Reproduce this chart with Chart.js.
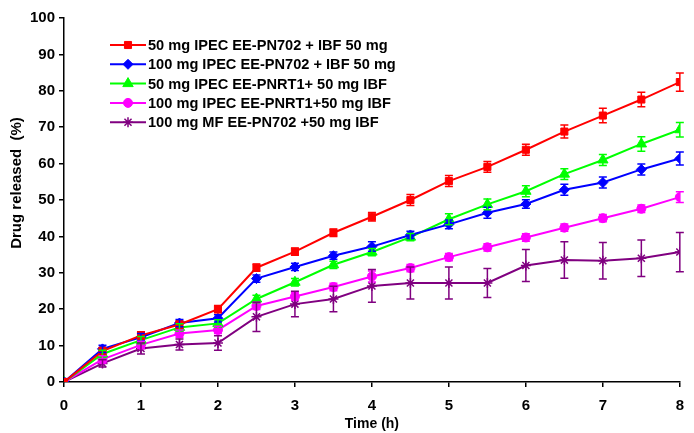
<!DOCTYPE html>
<html>
<head>
<meta charset="utf-8">
<script src="https://cdn.jsdelivr.net/npm/chart.js@4"></script>
<style>
  html, body { margin: 0; padding: 0; background: #fff; }
  #wrap { width: 694px; height: 433px; }
</style>
</head>
<body>
<div id="wrap"><canvas id="chart" width="694" height="433"></canvas></div>
<script>
// time points (h)
const times = [0, 0.5, 1, 1.5, 2, 2.5, 3, 3.5, 4, 4.5, 5, 5.5, 6, 6.5, 7, 7.5, 8];

const seriesNames = [
  '50 mg IPEC EE-PN702 + IBF 50 mg',
  '100 mg IPEC EE-PN702 + IBF 50 mg',
  '50 mg IPEC EE-PNRT1+ 50 mg IBF',
  '100 mg IPEC EE-PNRT1+50 mg IBF',
  '100 mg MF EE-PN702 +50 mg IBF'
];

// % drug released
const red     = [0, 8.5, 12.8, 15.8, 20, 31.4, 35.8, 41, 45.4, 50, 55.2, 59.1, 63.8, 68.8, 73.2, 77.6, 82.4];
const blue    = [0, 9.1, 12.3, 16.2, 17.5, 28.4, 31.6, 34.7, 37.2, 40.4, 43.3, 46.5, 48.9, 52.8, 54.8, 58.4, 61.4];
const green   = [0, 7.7, 11.5, 15, 16.1, 22.8, 27.4, 32.2, 35.7, 39.8, 44.7, 48.8, 52.4, 57.1, 61, 65.4, 69.3];
const magenta = [0, 6.2, 10.2, 13.3, 14.3, 20.9, 23.5, 26.1, 29, 31.3, 34.3, 37, 39.7, 42.4, 45, 47.6, 50.8];
const purple  = [0, 5.1, 9.2, 10.3, 10.7, 17.9, 21.4, 22.8, 26.4, 27.2, 27.2, 27.2, 32, 33.5, 33.3, 34, 35.7];

// standard deviations
const redErr     = [0, 1, 1, 1, 1, 1, 1, 1, 1.2, 1.5, 1.5, 1.5, 1.5, 1.8, 2, 2, 2.5];
const blueErr    = [0, 1, 1, 1, 1, 1, 1, 1, 1.3, 1, 1.2, 1.5, 1.2, 1.5, 1.5, 1.5, 1.8];
const greenErr   = [0, 1, 1, 1, 1, 1, 1, 1, 1, 1, 1.5, 1.5, 1.5, 1.5, 1.5, 2, 2];
const magentaErr = [0, 1, 1, 1, 1, 1, 1, 1, 1.5, 1, 1, 1, 1, 1, 1, 1, 1.5];
const purpleErr  = [0, 1, 1.5, 1.5, 2, 4, 3.5, 3.5, 4.5, 4.4, 4.4, 4, 4.4, 5, 5, 5, 5.4];

const yTicks = [0, 10, 20, 30, 40, 50, 60, 70, 80, 90, 100];
const xTicks = [0, 1, 2, 3, 4, 5, 6, 7, 8];

const colors = ['#ff0000', '#0000ff', '#00ff00', '#ff00ff', '#800080'];
const styles = ['rect', 'rectRot', 'triangle', 'circle', 'star'];
const values = [red, blue, green, magenta, purple];
const errors = [redErr, blueErr, greenErr, magentaErr, purpleErr];

const fontFam = '"Liberation Sans", Arial, sans-serif';
const radii = { rect: 5, rectRot: 5, triangle: 6, circle: 4.5, star: 5 };

const datasets = values.map((vals, i) => ({
  label: seriesNames[i],
  data: times.map((t, j) => ({ x: t, y: vals[j] })),
  errors: errors[i],
  borderColor: colors[i],
  backgroundColor: colors[i],
  pointBackgroundColor: colors[i],
  pointBorderColor: colors[i],
  pointStyle: styles[i],
  pointRadius: radii[styles[i]],
  pointBorderWidth: styles[i] === 'star' ? 1.5 : 1,
  borderWidth: 2,
  tension: 0
}));

// error bars, legend and y title drawn on the canvas
const extras = {
  id: 'extras',
  afterDatasetsDraw(chart) {
    const ctx = chart.ctx;
    const xs = chart.scales.x, ys = chart.scales.y;
    ctx.save();
    chart.data.datasets.forEach((ds) => {
      ctx.strokeStyle = ds.borderColor;
      ctx.lineWidth = 1.5;
      ds.data.forEach((p, j) => {
        const e = ds.errors[j];
        if (!e) return;
        const px = xs.getPixelForValue(p.x);
        const top = ys.getPixelForValue(p.y + e);
        const bot = ys.getPixelForValue(p.y - e);
        ctx.beginPath();
        ctx.moveTo(px, top); ctx.lineTo(px, bot);
        ctx.moveTo(px - 4, top); ctx.lineTo(px + 4, top);
        ctx.moveTo(px - 4, bot); ctx.lineTo(px + 4, bot);
        ctx.stroke();
      });
    });

    // legend
    const lx = 110, ly = 45, step = 19.3;
    ctx.font = 'bold 14.6px ' + fontFam;
    ctx.textBaseline = 'middle';
    chart.data.datasets.forEach((ds, i) => {
      const y = ly + i * step;
      ctx.strokeStyle = ds.borderColor;
      ctx.fillStyle = ds.borderColor;
      ctx.lineWidth = 2;
      ctx.beginPath();
      ctx.moveTo(lx, y); ctx.lineTo(lx + 36, y);
      ctx.stroke();
      ctx.lineWidth = ds.pointBorderWidth;
      Chart.helpers.drawPoint(ctx, {
        pointStyle: ds.pointStyle,
        radius: ds.pointRadius,
        borderWidth: ds.pointBorderWidth,
        rotation: 0
      }, lx + 18, y);
      ctx.fillStyle = '#000';
      ctx.fillText(ds.label, lx + 38, y + 1);
    });

    // y axis title
    ctx.translate(17, 183);
    ctx.rotate(-Math.PI / 2);
    ctx.textAlign = 'center';
    ctx.font = 'bold 15px ' + fontFam;
    ctx.fillStyle = '#000';
    ctx.fillText('Drug released  (%)', 0, 0);
    ctx.restore();
  }
};

new Chart(document.getElementById('chart').getContext('2d'), {
  type: 'line',
  data: { datasets },
  plugins: [extras],
  options: {
    responsive: false,
    animation: false,
    layout: { padding: { top: 18, right: 13, left: 0, bottom: 0 } },
    plugins: {
      legend: { display: false },
      tooltip: { enabled: false }
    },
    scales: {
      x: {
        type: 'linear',
        min: 0, max: 8,
        afterBuildTicks: (s) => { s.ticks = xTicks.map(v => ({ value: v })); },
        afterFit: (s) => { s.height = 51; },
        grid: { drawOnChartArea: false, drawTicks: true, tickLength: 5, color: '#000', lineWidth: 1.5 },
        border: { color: '#000', width: 1.5 },
        ticks: { color: '#000', padding: 10, font: { family: fontFam, size: 15, weight: 'bold' } },
        title: {
          display: true, text: 'Time (h)', color: '#000', padding: { top: -5, bottom: 0 },
          font: { family: fontFam, size: 14, weight: 'bold' }
        }
      },
      y: {
        min: 0, max: 100,
        afterBuildTicks: (s) => { s.ticks = yTicks.map(v => ({ value: v })); },
        afterFit: (s) => { s.width = 64; },
        grid: { drawOnChartArea: false, drawTicks: true, tickLength: 5, color: '#000', lineWidth: 1.5 },
        border: { color: '#000', width: 1.5 },
        ticks: { color: '#000', padding: 4, font: { family: fontFam, size: 15, weight: 'bold' } },
        title: { display: false }
      }
    }
  }
});
</script>
</body>
</html>
